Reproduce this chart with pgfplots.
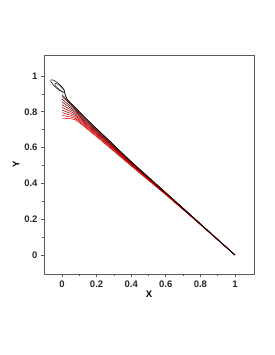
\documentclass[border=0pt]{standalone}
\usepackage{fontspec}
\setmainfont{Liberation Sans}
\usepackage{pgfplots}
\pgfplotsset{compat=1.18}
\begin{document}
\begin{tikzpicture}[x=1pt,y=1pt]
\path[use as bounding box] (0,0) rectangle (274,355);
\begin{axis}[
  at={(44pt,81pt)}, anchor=south west,
  width=210pt, height=219pt, scale only axis,
  xmin=-0.104, xmax=1.110, ymin=-0.106, ymax=1.117,
  xtick={0,0.2,0.4,0.6,0.8,1}, ytick={0,0.2,0.4,0.6,0.8,1},
  xticklabels={0,0.2,0.4,0.6,0.8,1}, yticklabels={0,0.2,0.4,0.6,0.8,1},
  minor tick num=1,
  tick align=outside, xtick pos=bottom, ytick pos=left,
  major tick length=3pt, minor tick length=2pt,
  axis line style={gray!70!black, line width=0.7pt},
  tick style={gray!70!black, line width=0.6pt},
  tick label style={font=\bfseries\fontsize{9.5}{11}\selectfont, text=black!85},
  /pgf/number format/assume math mode=true,
  xlabel={X}, ylabel={Y},
  label style={font=\bfseries\fontsize{9.5}{11}\selectfont},
  xlabel style={yshift=3pt},
  ylabel style={yshift=-2pt},
  every axis plot/.append style={line width=0.55pt, smooth, tension=0.5, line join=round},
]
\addplot[color=red!100!black] coordinates {(0.003,0.765)(0.03,0.762)(0.075,0.756)(0.15,0.700)(0.25,0.620)(0.4,0.497)(0.6,0.336)(0.8,0.170)(1,0)};
\addplot[color=red!91!black] coordinates {(0.002,0.780)(0.03,0.774)(0.075,0.763)(0.15,0.706)(0.25,0.625)(0.4,0.501)(0.6,0.338)(0.8,0.170)(1,0)};
\addplot[color=red!82!black] coordinates {(0.001,0.795)(0.03,0.786)(0.075,0.771)(0.15,0.712)(0.25,0.630)(0.4,0.504)(0.6,0.339)(0.8,0.171)(1,0)};
\addplot[color=red!73!black] coordinates {(0,0.810)(0.03,0.798)(0.075,0.779)(0.15,0.718)(0.25,0.634)(0.4,0.507)(0.6,0.341)(0.8,0.171)(1,0)};
\addplot[color=red!64!black] coordinates {(0,0.825)(0.03,0.810)(0.075,0.787)(0.15,0.723)(0.25,0.639)(0.4,0.509)(0.6,0.342)(0.8,0.172)(1,0)};
\addplot[color=red!55!black] coordinates {(0,0.840)(0.03,0.822)(0.075,0.795)(0.15,0.729)(0.25,0.643)(0.4,0.512)(0.6,0.343)(0.8,0.172)(1,0)};
\addplot[color=red!45!black] coordinates {(0,0.855)(0.03,0.834)(0.075,0.8025)(0.15,0.735)(0.25,0.647)(0.4,0.514)(0.6,0.344)(0.8,0.173)(1,0)};
\addplot[color=red!36!black] coordinates {(0,0.870)(0.03,0.846)(0.075,0.810)(0.15,0.740)(0.25,0.651)(0.4,0.517)(0.6,0.346)(0.8,0.173)(1,0)};
\addplot[color=red!27!black] coordinates {(0,0.885)(0.03,0.858)(0.075,0.8175)(0.15,0.746)(0.25,0.656)(0.4,0.519)(0.6,0.347)(0.8,0.174)(1,0)};
\addplot[color=red!18!black] coordinates {(0,0.895)(0.03,0.866)(0.075,0.8225)(0.15,0.750)(0.25,0.659)(0.4,0.521)(0.6,0.348)(0.8,0.174)(1,0)};
\addplot[color=black!70] coordinates {(0.0145,0.910)(0.0077,0.9098)(-0.0046,0.9159)(-0.0192,0.9269)(-0.0322,0.9397)(-0.0401,0.9510)(-0.0408,0.9576)(-0.0341,0.9579)(-0.0218,0.9517)(-0.0072,0.9407)(0.0058,0.9279)(0.0137,0.9167)(0.0145,0.910)(0.03,0.868)(0.075,0.824)(0.15,0.751)(0.25,0.659)(0.4,0.5215)(0.6,0.348)(0.8,0.174)(1,0)};
\addplot[color=black] coordinates {(0.0145,0.910)(0.005,0.9096)(-0.0127,0.9184)(-0.0335,0.9341)(-0.0522,0.9524)(-0.0635,0.9685)(-0.0645,0.978)(-0.0550,0.9784)(-0.0374,0.9696)(-0.0165,0.9539)(0.0022,0.9356)(0.0135,0.9195)(0.0145,0.910)(0.03,0.870)(0.075,0.825)(0.15,0.752)(0.25,0.660)(0.4,0.522)(0.6,0.348)(0.8,0.174)(1,0)};
\end{axis}
\end{tikzpicture}
\end{document}
